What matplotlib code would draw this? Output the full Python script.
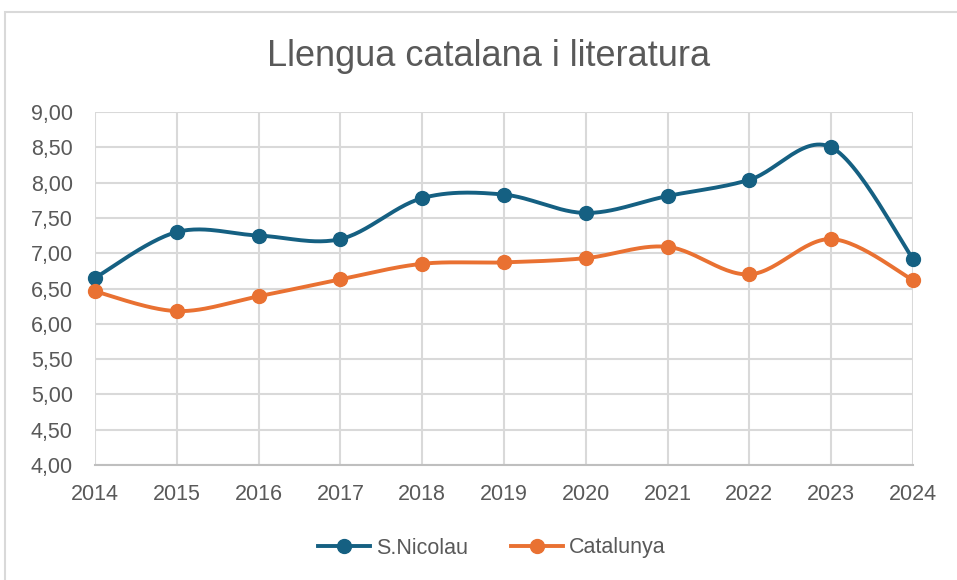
import matplotlib
matplotlib.use("Agg")
import matplotlib.pyplot as plt
import numpy as np
from matplotlib.patches import Rectangle

years = [2014, 2015, 2016, 2017, 2018, 2019, 2020, 2021, 2022, 2023, 2024]
snicolau = [6.65, 7.30, 7.25, 7.20, 7.78, 7.83, 7.57, 7.81, 8.04, 8.50, 6.92]
catalunya = [6.46, 6.18, 6.39, 6.63, 6.85, 6.87, 6.93, 7.09, 6.70, 7.20, 6.62]
series_names = ["S.Nicolau", "Catalunya"]
colors = ["#156082", "#E97132"]
yticks = [4.0, 4.5, 5.0, 5.5, 6.0, 6.5, 7.0, 7.5, 8.0, 8.5, 9.0]


def smooth(x, y, n=30):
    # Bezier smoothing like Excel (Catmull-Rom control points)
    x = np.asarray(x, float)
    y = np.asarray(y, float)
    px = np.concatenate([[x[0]], x, [x[-1]]])
    py = np.concatenate([[y[0]], y, [y[-1]]])
    xs, ys = [], []
    t = np.linspace(0, 1, n)
    for i in range(1, len(px) - 2):
        p0 = np.array([px[i], py[i]])
        p3 = np.array([px[i + 1], py[i + 1]])
        c1 = p0 + (np.array([px[i + 1], py[i + 1]]) - np.array([px[i - 1], py[i - 1]])) / 6
        c2 = p3 - (np.array([px[i + 2], py[i + 2]]) - np.array([px[i], py[i]])) / 6
        b = ((1 - t) ** 3)[:, None] * p0 + (3 * (1 - t) ** 2 * t)[:, None] * c1 \
            + (3 * (1 - t) * t ** 2)[:, None] * c2 + (t ** 3)[:, None] * p3
        xs.extend(b[:, 0])
        ys.extend(b[:, 1])
    return xs, ys


fig = plt.figure(figsize=(9.57, 5.80), dpi=100)
fig.patches.append(Rectangle((5 / 957, -0.1), 1.2, 1 - 12 / 580 + 0.1,
                             transform=fig.transFigure, fill=False,
                             edgecolor="#D9D9D9", linewidth=1.5))
ax = fig.add_axes([95 / 957, 1 - 465 / 580, (913 - 95) / 957, (465 - 112) / 580])

handles = []
for vals, name, col in zip([snicolau, catalunya], series_names, colors):
    sx, sy = smooth(years, vals)
    ax.plot(sx, sy, color=col, linewidth=2.8, solid_capstyle="round", zorder=3,
            clip_on=False)
    ax.plot(years, vals, linestyle="none", marker="o", markersize=10,
            color=col, zorder=4, clip_on=False)
    h, = ax.plot([], [], color=col, linewidth=2.8, marker="o", markersize=10,
                 label=name)
    handles.append(h)

ax.set_xlim(2014, 2024)
ax.set_ylim(4, 9)
ax.set_xticks(years)
ax.set_yticks(yticks)
ax.set_yticklabels([f"{v:.2f}".replace(".", ",") for v in yticks])
ax.grid(True, color="#D9D9D9", linewidth=1.5)
ax.set_axisbelow(True)
for s in ["top", "right", "left"]:
    ax.spines[s].set_visible(False)
ax.spines["bottom"].set_color("#BFBFBF")
ax.spines["bottom"].set_linewidth(1.5)
ax.tick_params(length=0, labelsize=15.5, labelcolor="#595959")
ax.tick_params(axis="x", pad=14)
ax.tick_params(axis="y", pad=16)
for lab in ax.get_xticklabels() + ax.get_yticklabels():
    lab.set_fontfamily("Liberation Sans")

fig.text(0.511, 1 - 56 / 580, "Llengua catalana i literatura", ha="center",
         va="center", fontsize=26, color="#595959",
         family=["Liberation Sans", "DejaVu Sans"])

leg = fig.legend(handles=handles, loc="center", bbox_to_anchor=(0.514, 1 - 548 / 580),
                 ncol=2, frameon=False, handlelength=2.4, columnspacing=2.0,
                 handletextpad=0.3, prop={"family": "Liberation Sans", "size": 15.5})
for t in leg.get_texts():
    t.set_color("#595959")

fig.savefig("out.png", dpi=100)
